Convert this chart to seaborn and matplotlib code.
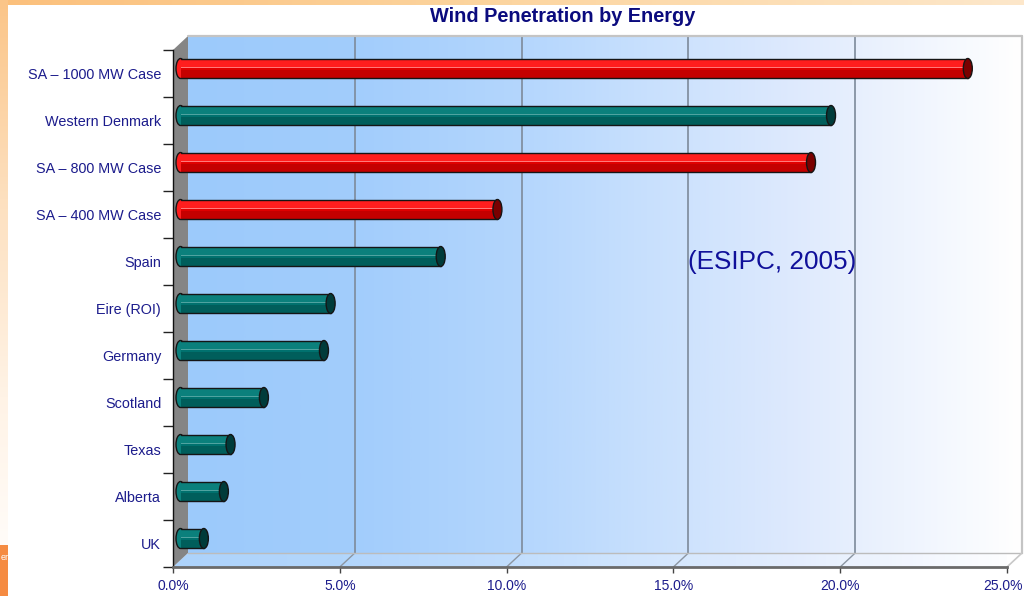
import numpy as np
import pandas as pd
import seaborn as sns
import matplotlib.pyplot as plt
from matplotlib import transforms
from matplotlib.patches import Rectangle, Ellipse, Polygon
from matplotlib.colors import LinearSegmentedColormap

# ---- data -------------------------------------------------------------
categories = ["SA – 1000 MW Case", "Western Denmark", "SA – 800 MW Case",
              "SA – 400 MW Case", "Spain", "Eire (ROI)", "Germany",
              "Scotland", "Texas", "Alberta", "UK"]
penetration = [23.6, 19.5, 18.9, 9.5, 7.8, 4.5, 4.3, 2.5, 1.5, 1.3, 0.7]
group = ["SA case", "Region", "SA case", "SA case", "Region", "Region",
         "Region", "Region", "Region", "Region", "Region"]
x_ticks = [0, 5, 10, 15, 20, 25]
x_tick_labels = ["0.0%", "5.0%", "10.0%", "15.0%", "20.0%", "25.0%"]
title = "Wind Penetration by Energy"
source_note = "(ESIPC, 2005)"

# ---- styling ----------------------------------------------------------
palette = {"SA case": "#e00000", "Region": "#00716e"}
shades = {
    "SA case": dict(top="#ff1e1e", hi="#ff7a7a", low="#c40000", cap="#7a0000"),
    "Region": dict(top="#0b807c", hi="#4fa3a0", low="#005e5b", cap="#003b3a"),
}
label_color = "#1c1c8c"

sns.set_theme(style="white")
plt.rcParams["font.family"] = ["Liberation Sans", "DejaVu Sans"]

W, H = 1024, 596
fig = plt.figure(figsize=(W / 100, H / 100), dpi=100)
fig.patch.set_facecolor("white")

# ---- slide frame (orange border strips) --------------------------------
bg = fig.add_axes([0, 0, 1, 1], zorder=0)
top_cmap = LinearSegmentedColormap.from_list("top", ["#fbc07c", "#fcd5a0", "#fde7ca"])
left_cmap = LinearSegmentedColormap.from_list("left", ["#fbc588", "#fde0bf", "#fff3e6", "#ffffff"])
bg.imshow(np.linspace(0, 1, 256)[None, :], cmap=top_cmap, extent=[0, W, 5, 0], aspect="auto")
bg.imshow(np.linspace(0, 1, 256)[:, None], cmap=left_cmap, extent=[0, 8, H, 0], aspect="auto")
bg.add_patch(Rectangle((0, 545), 8, H - 545, facecolor="#f58b42", edgecolor="none"))
bg.text(0.5, 557, "er", ha="left", va="center", color="white", fontsize=6.5)
bg.set_xlim(0, W)
bg.set_ylim(H, 0)
bg.axis("off")

# ---- main axes (front plane of the 3D box) -----------------------------
ax = fig.add_axes([173 / W, 29 / H, 834 / W, 517 / H], zorder=1)
ax.patch.set_alpha(0)

df = pd.DataFrame({"category": categories, "penetration": penetration, "group": group})
sns.barplot(data=df, x="penetration", y="category", hue="group", palette=palette,
            dodge=False, width=0.425, orient="h", legend=False, saturation=1, ax=ax)

XMAX = 25
ax.set_xlim(0, XMAX)
ax.set_ylim(len(categories) - 0.5, -0.5)
px_x = 834 / XMAX
px_y = 517 / len(categories)
DX, DY = 15 / px_x, 14 / px_y          # depth of the box in data units
y_top, y_bot = -0.5, len(categories) - 0.5

# back wall gradient
wall_cmap = LinearSegmentedColormap.from_list(
    "wall", [(0.0, "#9ccafb"), (0.2, "#a2cdfc"), (0.4, "#b4d6fd"),
             (0.55, "#c8e0fd"), (0.72, "#dde9fd"), (0.86, "#eef4fe"), (1.0, "#ffffff")])
grad = np.linspace(0, 1, 512)[None, :]
wall = ax.imshow(grad, cmap=wall_cmap, extent=[DX, XMAX + DX, y_bot - DY, y_top - DY],
                 aspect="auto", zorder=0.5)
wall.set_clip_on(False)

# floor
floor_poly = Polygon([(0, y_bot), (XMAX, y_bot), (XMAX + DX, y_bot - DY), (DX, y_bot - DY)],
                     closed=True, facecolor="none", edgecolor="none", transform=ax.transData)
ax.add_patch(floor_poly)
floor = ax.imshow(grad, cmap=wall_cmap, extent=[0, XMAX + DX, y_bot, y_bot - DY],
                  aspect="auto", zorder=0.6)
floor.set_clip_path(floor_poly)
ax.add_patch(Polygon([(0, y_bot), (XMAX, y_bot), (XMAX + DX, y_bot - DY), (DX, y_bot - DY)],
                     closed=True, facecolor="white", alpha=0.18, edgecolor="none", zorder=0.7))

# left wall
ax.add_patch(Polygon([(0, y_top), (DX, y_top - DY), (DX, y_bot - DY), (0, y_bot)],
                     closed=True, facecolor="#858585", edgecolor="none", zorder=0.8,
                     clip_on=False))

# grid lines on the back wall and floor
for xv in x_ticks[1:-1]:
    ax.plot([xv + DX, xv + DX], [y_top - DY, y_bot - DY], color="#7d8a9a", lw=1.2,
            zorder=0.9, clip_on=False)
    ax.plot([xv + DX, xv], [y_bot - DY, y_bot], color="#8c96a2", lw=1.0,
            zorder=0.9, clip_on=False)

# box outline edges
edge_kw = dict(color="#c4c4c4", lw=1.6, zorder=0.95, clip_on=False)
ax.plot([DX, XMAX + DX], [y_top - DY, y_top - DY], **edge_kw)
ax.plot([XMAX + DX, XMAX + DX], [y_top - DY, y_bot - DY], **edge_kw)
ax.plot([DX, XMAX + DX], [y_bot - DY, y_bot - DY], color="#bcbcbc", lw=1.0, zorder=0.95,
        clip_on=False)
ax.plot([XMAX, XMAX + DX], [y_bot, y_bot - DY], color="#c8c8c8", lw=1.2, zorder=0.95,
        clip_on=False)

# ---- cylinder styling for the bars -------------------------------------
bar_tr = ax.transData + transforms.ScaledTranslation(7.5 / 100, 5 / 100, fig.dpi_scale_trans)
EW = 9 / px_x
group_of = dict(zip(categories, group))
bars = [p for p in ax.patches if isinstance(p, Rectangle) and p.get_width() > 0
        and p.get_height() < 1]
for rect in bars:
    x0, y0 = rect.get_x(), rect.get_y()
    w, h = rect.get_width(), rect.get_height()
    idx = int(round(y0 + h / 2))
    s = shades[group_of[categories[idx]]]
    rect.set_transform(bar_tr)
    rect.set_edgecolor("none")
    rect.set_zorder(4)
    rect.set_clip_on(False)
    # rounded left end
    ax.add_patch(Ellipse((x0, y0 + h / 2), EW, h, facecolor=s["top"], edgecolor="#151515",
                         lw=1.0, transform=bar_tr, zorder=3.9, clip_on=False))
    # shading bands
    ax.add_patch(Rectangle((x0, y0), w, h * 0.42, facecolor=s["top"], edgecolor="none",
                           transform=bar_tr, zorder=4.1, clip_on=False))
    ax.add_patch(Rectangle((x0, y0 + h * 0.40), w, h * 0.08, facecolor=s["hi"],
                           edgecolor="none", transform=bar_tr, zorder=4.15, clip_on=False))
    ax.add_patch(Rectangle((x0, y0 + h * 0.58), w, h * 0.42, facecolor=s["low"],
                           edgecolor="none", transform=bar_tr, zorder=4.1, clip_on=False))
    # outline
    for yy in (y0, y0 + h):
        ax.plot([x0, x0 + w], [yy, yy], color="#151515", lw=1.0, transform=bar_tr,
                zorder=4.3, clip_on=False)
    # right end cap
    ax.add_patch(Ellipse((x0 + w, y0 + h / 2), EW, h, facecolor=s["cap"],
                         edgecolor="#151515", lw=1.0, transform=bar_tr, zorder=4.4,
                         clip_on=False))

# ---- axes, ticks, labels -----------------------------------------------
for side in ("top", "right"):
    ax.spines[side].set_visible(False)
ax.spines["left"].set_color("#111111")
ax.spines["left"].set_linewidth(1.0)
ax.spines["bottom"].set_color("#6a6a6a")
ax.spines["bottom"].set_linewidth(2.0)
ax.spines["left"].set_zorder(5)
ax.spines["bottom"].set_zorder(5)

ax.set_xticks(x_ticks)
ax.set_xticklabels(x_tick_labels)
ax.tick_params(axis="x", direction="out", length=4.3, width=1.0, color="#444444",
               labelcolor=label_color, labelsize=10, pad=4, bottom=True)
# keep the last tick label inside the figure edge
last = ax.get_xticklabels()[-1]
last.set_transform(last.get_transform()
                   + transforms.ScaledTranslation(-4 / 100, 0, fig.dpi_scale_trans))

ax.set_yticks(range(len(categories)))
ax.set_yticklabels(categories)
ax.tick_params(axis="y", which="major", length=0, pad=8.5, labelcolor=label_color,
               labelsize=10.35, left=True)
ax.set_yticks(np.arange(-0.5, len(categories), 1.0), minor=True)
ax.tick_params(axis="y", which="minor", direction="out", length=7.2, width=1.0,
               color="#222222", left=True)
ax.set_xlabel("")
ax.set_ylabel("")
ax.grid(False)

fig.text(563 / W, 1 - 16 / H, title, ha="center", va="center", fontsize=14.3,
         fontweight="bold", color="#0b0b7e")
fig.text(688 / W, 1 - 262 / H, source_note, ha="left", va="center", fontsize=18.8,
         color="#10109a")

fig.savefig("out.png", dpi=100)
